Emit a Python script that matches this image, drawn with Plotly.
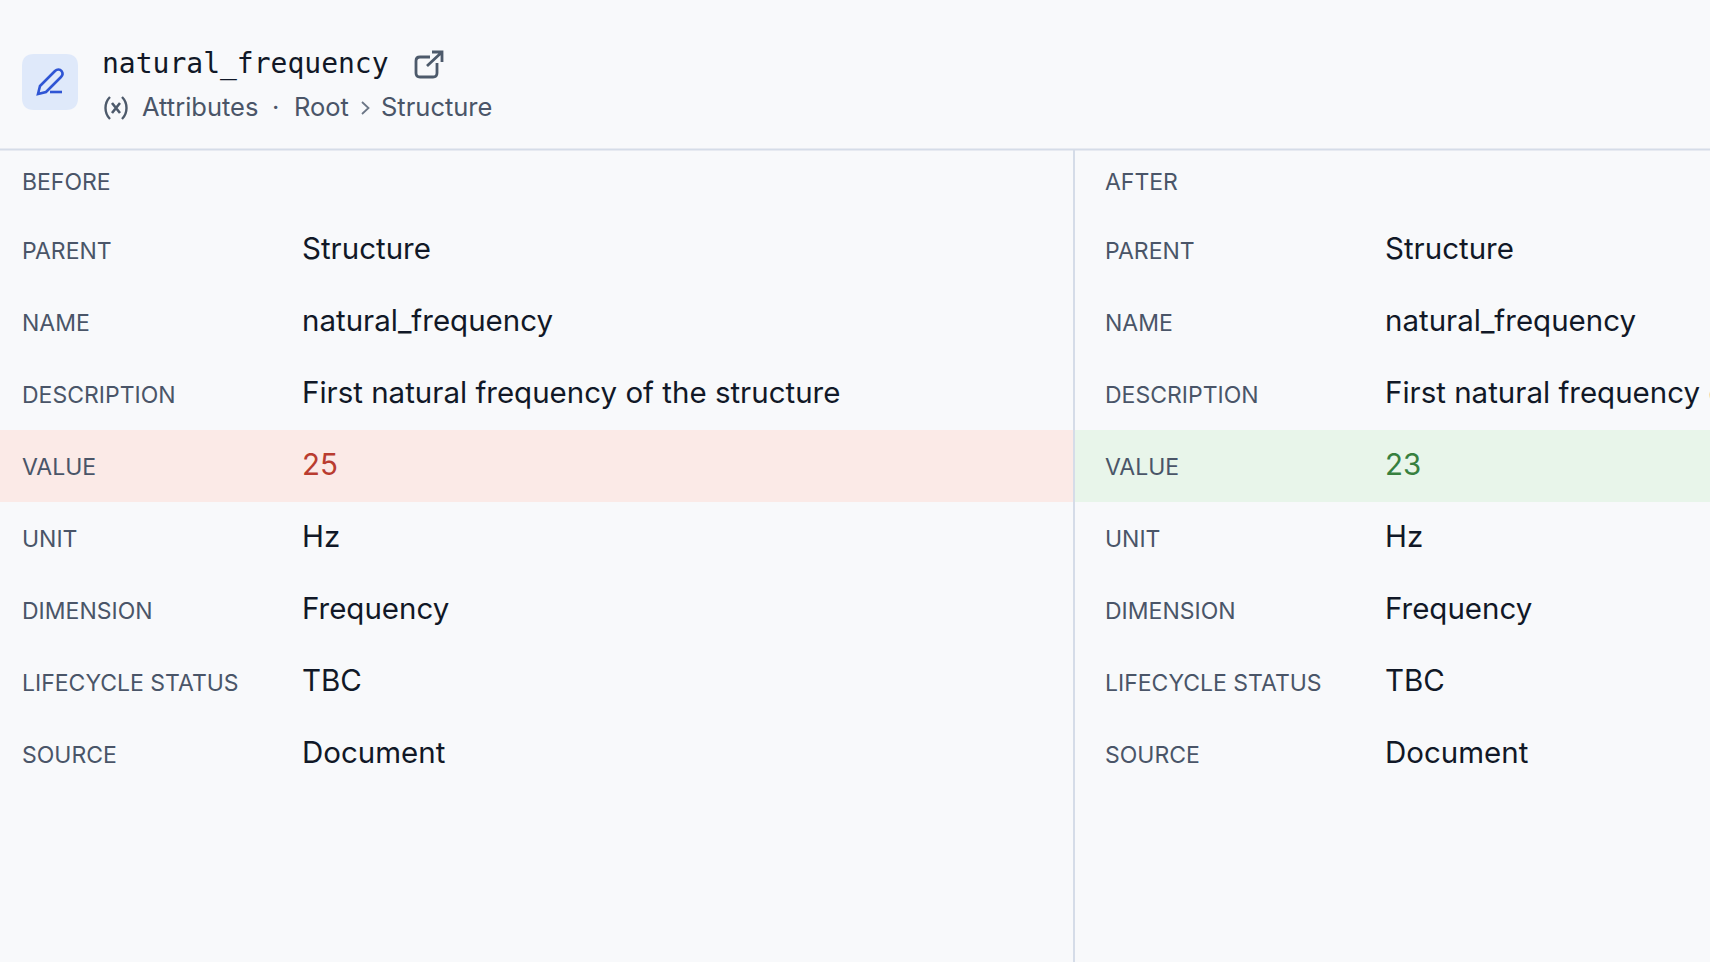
import plotly.graph_objects as go

# Text content of the diff panel
title = "natural_frequency"
breadcrumb = ["Attributes", "·", "Root", "Structure"]
column_names = ["BEFORE", "AFTER"]
field_labels = ["PARENT", "NAME", "DESCRIPTION", "VALUE", "UNIT", "DIMENSION", "LIFECYCLE STATUS", "SOURCE"]
before_values = ["Structure", "natural_frequency", "First natural frequency of the structure", "25", "Hz", "Frequency", "TBC", "Document"]
after_values = ["Structure", "natural_frequency", "First natural frequency of the structure", "23", "Hz", "Frequency", "TBC", "Document"]
changed_field = "VALUE"

W, H = 1710, 962
BG = "#f8f9fb"
LABEL = "#4a5568"
INK = "#111827"
RULE = "#d5dce8"
BLUE = "#2f55d4"
BODY_FONT = "Inter"

# layout, in page pixels
first_row = 250
row_pitch = 72
divider_x = 1074
label_x = [22, 1105]
value_x = [302, 1385]
header_y = 184
line_y = 149.5

row_y = [first_row + i * row_pitch for i in range(len(field_labels))]
changed_y = row_y[field_labels.index(changed_field)]
label_y = [y + 3 for y in row_y]
value_y = [y + 2 for y in row_y]


def text_trace(x, y, text, size, color, family=BODY_FONT):
    return go.Scatter(
        x=x, y=y, text=text, mode="text", textposition="middle right",
        textfont=dict(size=size, color=color, family=family),
        hoverinfo="skip", showlegend=False,
    )


fig = go.Figure()

# column headers and rows
for col, values in enumerate([before_values, after_values]):
    fig.add_trace(text_trace([label_x[col]], [header_y], [column_names[col]], 23, LABEL))
    fig.add_trace(text_trace([label_x[col]] * len(field_labels), label_y, field_labels, 23, LABEL))
    colors = [INK] * len(values)
    colors[field_labels.index(changed_field)] = ["#b93c30", "#37803f"][col]
    fig.add_trace(text_trace([value_x[col]] * len(values), value_y, values, 29.5, colors))

# header text
fig.add_trace(text_trace([102], [66], [title], 28, INK, "DejaVu Sans Mono"))
fig.add_trace(text_trace([142, 272, 294, 381], [110] * 4, breadcrumb, 25.5, LABEL))

shapes = [
    # highlighted row
    dict(type="rect", x0=0, x1=divider_x, y0=changed_y - 36, y1=changed_y + 36, fillcolor="#fbeae7", line_width=0, layer="below"),
    dict(type="rect", x0=divider_x, x1=W, y0=changed_y - 36, y1=changed_y + 36, fillcolor="#e8f5ea", line_width=0, layer="below"),
    # rules
    dict(type="line", x0=0, x1=W, y0=line_y, y1=line_y, line=dict(color=RULE, width=2)),
    dict(type="line", x0=divider_x, x1=divider_x, y0=line_y, y1=H, line=dict(color=RULE, width=2)),
    # icon tile
    dict(type="path", layer="below", fillcolor="#dfe9fa", line_width=0,
         path="M34,54 H66 Q78,54 78,66 V98 Q78,110 66,110 H34 Q22,110 22,98 V66 Q22,54 34,54 Z"),
    # pen
    dict(type="path", line=dict(color=BLUE, width=2.6),
         path="M38,94 L40,86 L55,71 C57,69 60,69 61.5,71 C63,73 63,75 61,77 L46,92 Z"),
    dict(type="path", line=dict(color=BLUE, width=2.6), path="M50,92 H62"),
    # external link
    dict(type="path", line=dict(color="#4d5a6b", width=2.8),
         path="M430,57 H420 Q416,57 416,61 V73 Q416,77 420,77 H433 Q437,77 437,73 V63"),
    dict(type="path", line=dict(color="#4d5a6b", width=2.8), path="M427,66 L442,52 M432,52 H442 V62"),
    # (x) icon
    dict(type="path", line=dict(color="#4d5a6b", width=2.4), path="M110,97 C104,103 104,113 110,119"),
    dict(type="path", line=dict(color="#4d5a6b", width=2.4), path="M122,97 C128,103 128,113 122,119"),
    dict(type="path", line=dict(color="#4d5a6b", width=2.6), path="M112,103 L120,113 M120,103 L112,113"),
    # breadcrumb chevron
    dict(type="path", line=dict(color="#6b7686", width=1.8), path="M362,102 L368.5,108 L362,114"),
]

fig.update_layout(
    width=W, height=H,
    margin=dict(l=0, r=0, t=0, b=0),
    paper_bgcolor=BG, plot_bgcolor=BG,
    xaxis=dict(range=[0, W], visible=False, fixedrange=True),
    yaxis=dict(range=[H, 0], visible=False, fixedrange=True),
    shapes=shapes,
    showlegend=False,
)

fig.write_html("out.html", post_script="document.body.style.margin='0';document.body.style.background='" + BG + "';", config=dict(displayModeBar=False))
